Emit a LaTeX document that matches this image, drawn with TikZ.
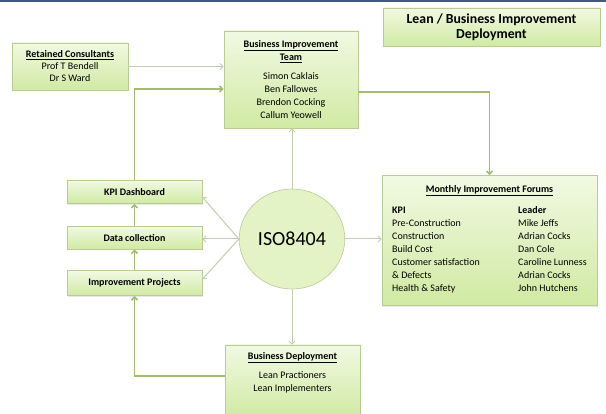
\documentclass[tikz,border=0pt]{standalone}
\usepackage{fontspec}
\setmainfont{Carlito}
\usetikzlibrary{positioning, arrows.meta, shapes.geometric, shadows}

\definecolor{boxtop}{HTML}{F1F9E2}
\definecolor{boxbot}{HTML}{D0EAA3}
\definecolor{boxline}{HTML}{B8CC94}
\definecolor{hubfill}{HTML}{E3F3C6}
\definecolor{flowline}{HTML}{C2CFAE}
\definecolor{feedline}{HTML}{A3BD6E}
\definecolor{topbar}{HTML}{3E5A80}

\begin{document}
\begin{tikzpicture}[
	x=1pt, y=-1pt,
	box/.style={draw=boxline, line width=0.6pt, rectangle, top color=boxtop, bottom color=boxbot, align=center, inner sep=2pt,
		drop shadow={opacity=0.18, shadow xshift=1.2pt, shadow yshift=-1.4pt}, font=\fontsize{10}{13}\selectfont},
	stage/.style={box, minimum width=135pt, minimum height=23pt, font=\fontsize{10}{13}\selectfont\bfseries},
	flow/.style={-{Straight Barb[length=3pt, width=6pt]}, draw=flowline, line width=1pt},
	feed/.style={flow, draw=feedline, line width=1.6pt},
	]

	\useasboundingbox (0,0) rectangle (606,414);
	\fill[white] (0,0) rectangle (606,414);
	\fill[topbar] (0,0) rectangle (606,2.5);

	\node[box, minimum width=217pt, minimum height=38pt, font=\fontsize{13.8}{15}\selectfont\bfseries] (title) at (491.5,27) {Lean / Business Improvement\\Deployment};

	\node[box, minimum width=116pt, minimum height=47pt, font=\fontsize{10}{12}\selectfont] (consult) at (70,66.5) {\underline{\textbf{Retained Consultants}}\\Prof T Bendell\\Dr S Ward};
	\node[box, minimum width=134pt, minimum height=97pt] (team) at (291,79.5) {\underline{\textbf{Business Improvement}}\\\underline{\textbf{Team}}\\[6pt]Simon Caklais\\Ben Fallowes\\Brendon Cocking\\Callum Yeowell};

	\node[box, minimum width=215pt, minimum height=130pt] (forums) at (489.5,240.5) {\underline{\textbf{Monthly Improvement Forums}}\\[8pt]
		\begin{tabular}{@{}p{126pt}@{}l@{}}
			\textbf{KPI} & \textbf{Leader}\\
			Pre-Construction & Mike Jeffs\\
			Construction & Adrian Cocks\\
			Build Cost & Dan Cole\\
			Customer satisfaction & Caroline Lunness\\
			\& Defects & Adrian Cocks\\
			Health \& Safety & John Hutchens
		\end{tabular}};

	\node[stage] (kpi) at (134.5,192) {KPI Dashboard};
	\node[stage, below=22pt of kpi] (data) {Data collection};
	\node[stage, minimum height=25pt, below=21pt of data] (projects) {Improvement Projects};

	\node[draw=boxline, line width=0.6pt, ellipse, minimum width=94pt, minimum height=100pt, fill=hubfill, font=\fontsize{20}{24}\selectfont] (iso) at (292,239) {ISO8404};

	\node[box, minimum width=135pt, minimum height=72pt] (deploy) at (292.5,381) {};
	\node[anchor=north, align=center, font=\fontsize{10}{13}\selectfont] (deploytext) at ([yshift=-4pt]deploy.north) {\underline{\textbf{Business Deployment}}\\[6pt]Lean Practioners\\Lean Implementers};

	% feedback loop
	\draw[feed] ([yshift=5pt]deploy.west) -| (projects.south);
	\draw[feed] (projects.north) -- (data.south);
	\draw[feed] (data.north) -- (kpi.south);
	\draw[feed] (kpi.north) |- ([yshift=-9.5pt]team.west);
	\draw[feed] ([yshift=-12.5pt]team.east) -| (forums.north);

	\draw[flow] (consult.east) -- (consult.east -| team.west);

	% out of the hub
	\draw[flow] (iso.north) -- (iso.north |- team.south);
	\draw[flow] (iso.south) -- (iso.south |- deploy.north);
	\draw[flow] (iso.east) -- (iso.east -| forums.west);
	\draw[flow] (iso.west) -- (iso.west -| data.east);
	\draw[flow] (iso.west) -- ([yshift=-5pt]kpi.east);
	\draw[flow] (iso.west) -- ([yshift=4pt]projects.east);

\end{tikzpicture}
\end{document}
